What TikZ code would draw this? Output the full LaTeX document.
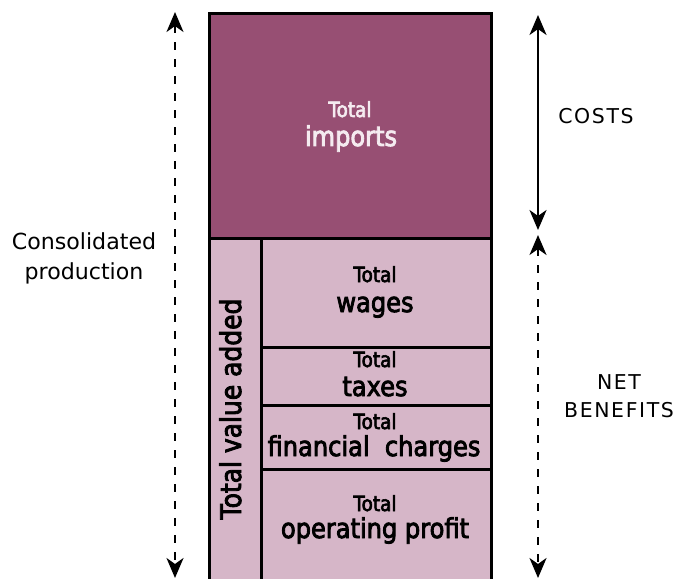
\documentclass[tikz,border=0pt]{standalone}
\usepackage{fontspec}
\setmainfont{DejaVu Sans}
\newfontfamily\boxfont[FakeStretch=0.88,FakeBold=3]{DejaVu Sans}
\usetikzlibrary{arrows.meta}
\definecolor{impcol}{RGB}{151,79,115}
\definecolor{vacol}{RGB}{214,182,200}
\definecolor{imptext}{RGB}{245,235,240}
\begin{document}
\begin{tikzpicture}[x=1bp,y=-1bp,
  cell/.style={draw=black,line width=2.6bp,inner sep=0pt,anchor=north west},
  small/.style={font=\boxfont\fontsize{21}{22}\selectfont,inner sep=0pt,anchor=base},
  big/.style={font=\boxfont\fontsize{27.5}{30}\selectfont,inner sep=0pt,anchor=base},
  side/.style={font=\fontsize{22.2}{29.5}\selectfont,inner sep=0pt,align=center,anchor=base},
  spaced/.style={font=\fontsize{20.5}{28}\selectfont\addfontfeatures{LetterSpace=8},inner sep=0pt,align=center,anchor=base},
  arr/.style={line width=2.5bp,{Stealth[length=20bp,width=17bp,inset=6bp]}-{Stealth[length=20bp,width=17bp,inset=6bp]}},
  darr/.style={arr,dash pattern=on 8bp off 9bp}]
\useasboundingbox (0,0) rectangle (676,579);
\clip (0,0) rectangle (676,579);
\fill[white] (0,0) rectangle (676,579);
% boxes
\node[cell,fill=impcol,minimum width=282bp,minimum height=225bp] (imp) at (208,12) {};
\node[cell,fill=vacol,minimum width=52bp,minimum height=370bp] (va) at (208,237) {};
\node[cell,fill=vacol,minimum width=230bp,minimum height=109bp] (wag) at (260,237) {};
\node[cell,fill=vacol,minimum width=230bp,minimum height=58bp] (tax) at (260,346) {};
\node[cell,fill=vacol,minimum width=230bp,minimum height=64bp] (fin) at (260,404) {};
\node[cell,fill=vacol,minimum width=230bp,minimum height=139bp] (op) at (260,468) {};
% texts
\node[small,text=imptext] (imp1) at (350,117) {Total};
\node[big,text=imptext] (imp2) at (351,146) {imports};
\node[small] (wag1) at (375,282) {Total};
\node[big] (wag2) at (375,312) {wages};
\node[small] (tax1) at (375,367) {Total};
\node[big] (tax2) at (375,396) {taxes};
\node[small] (fin1) at (375,429) {Total};
\node[big] (fin2) at (374,456) {financial\ \ charges};
\node[small] (op1) at (375,511) {Total};
\node[big] (op2) at (375,538) {operating profit};
\node[big,rotate=90,font=\boxfont\fontsize{28.5}{30}\selectfont] (vat) at (241,409) {Total\ value\ added};
\node[side] (cons) at (84,279) {Consolidated\\production};
\node[spaced] (costs) at (596,124) {COSTS};
\node[spaced] (net) at (619,417) {NET\\BENEFITS};
% arrows
\coordinate (lt) at (175,12);
\coordinate (lb) at (175,578);
\coordinate (ct) at (538,15);
\coordinate (cb) at (538,230);
\coordinate (nt) at (538,235);
\coordinate (nb) at (538,578);
\draw[darr] (lt) -- (lb);
\draw[arr] (ct) -- (cb);
\draw[darr] (nt) -- (nb);
\end{tikzpicture}
\end{document}
